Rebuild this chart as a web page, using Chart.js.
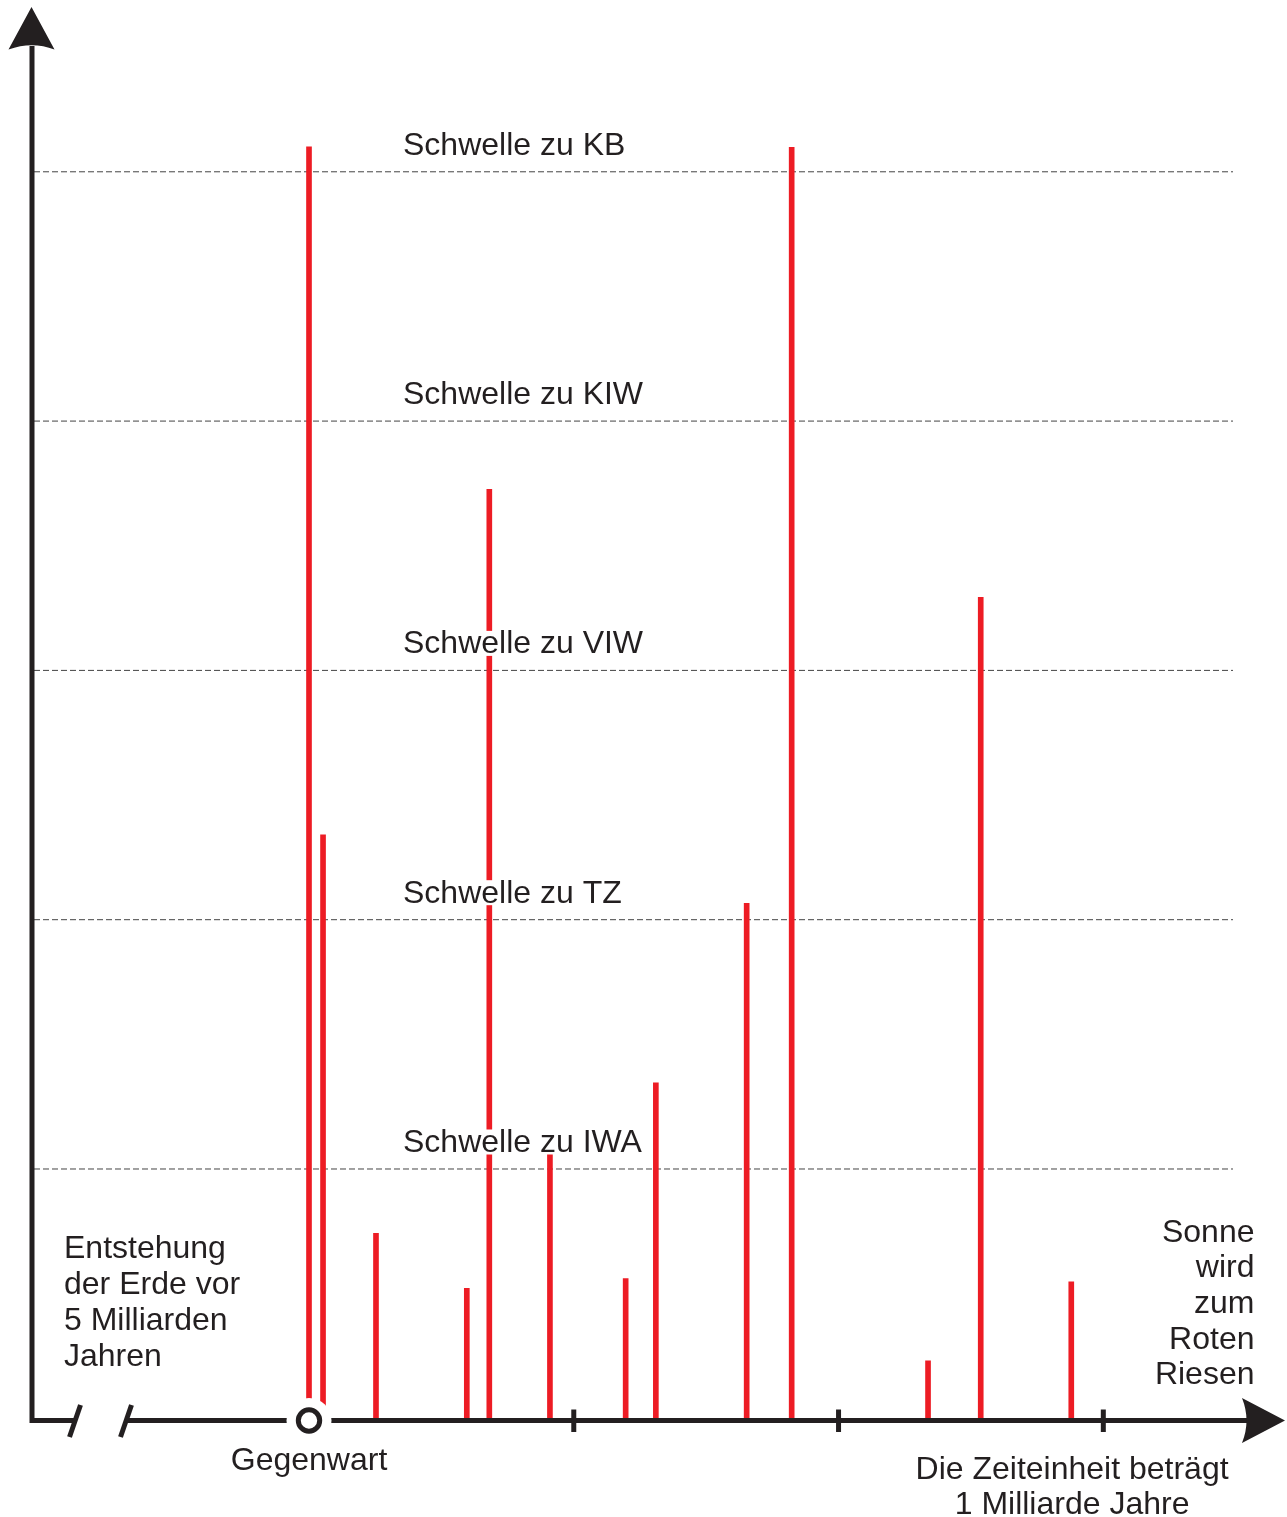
<!DOCTYPE html>
<html>
<head>
<meta charset="utf-8">
<script src="https://cdn.jsdelivr.net/npm/chart.js@4.4.1/dist/chart.umd.min.js"></script>
<style>
  html, body { margin: 0; padding: 0; background: #ffffff; }
  #wrap { width: 1287px; height: 1517px; position: relative; }
</style>
</head>
<body>
<div id="wrap"><canvas id="c"></canvas></div>
<script>
// ---- data (time in billions of years from present, intensity in threshold units) ----
const eventTimes = [0, 0.053, 0.253, 0.596, 0.681, 0.910, 1.196, 1.310, 1.653, 1.823, 2.338, 2.537, 2.879];
const eventLevels = [5.10, 2.34, 0.742, 0.521, 3.726, 1.06, 0.56, 1.346, 2.066, 5.098, 0.231, 3.293, 0.547];
const thresholdLevels = [1, 2, 3, 4, 5];
const thresholdLabels = ['Schwelle zu IWA', 'Schwelle zu TZ', 'Schwelle zu VIW', 'Schwelle zu KIW', 'Schwelle zu KB'];
const timeTicks = [1, 2, 3];
const presentTime = 0;
const presentLabel = 'Gegenwart';
const originLabel = ['Entstehung', 'der Erde vor', '5 Milliarden', 'Jahren'];
const endLabel = ['Sonne', 'wird', 'zum', 'Roten', 'Riesen'];
const unitLabel = ['Die Zeiteinheit beträgt', '1 Milliarde Jahre'];
const xRange = [-1.0462, 3.6862];
const yRange = [0, 5.661];

const INK = '#231f20';
const RED = '#ed1c24';
const FONT = '32px "Liberation Sans", Arial, Helvetica, sans-serif';

const decor = {
  id: 'decor',
  beforeDatasetsDraw(chart) {
    const ctx = chart.ctx, xs = chart.scales.x, ys = chart.scales.y;
    const a = chart.chartArea;
    ctx.save();
    ctx.strokeStyle = '#444444';
    ctx.lineWidth = 1;
    ctx.setLineDash([6, 3]);
    thresholdLevels.forEach(v => {
      const y = ys.getPixelForValue(v);
      ctx.beginPath();
      ctx.moveTo(a.left + 2, y);
      ctx.lineTo(a.left + 1201, y);
      ctx.stroke();
    });
    ctx.restore();
  },
  afterDatasetsDraw(chart) {
    const ctx = chart.ctx, xs = chart.scales.x, ys = chart.scales.y;
    const a = chart.chartArea;
    const axisX = a.left;
    const axisY = ys.getPixelForValue(0) + 2.2;
    ctx.save();
    ctx.font = FONT;
    ctx.textBaseline = 'alphabetic';

    // threshold labels with white backing
    const labelX = xs.getPixelForValue(0.355);
    thresholdLevels.forEach((v, i) => {
      const base = ys.getPixelForValue(v) - 17;
      const w = ctx.measureText(thresholdLabels[i]).width;
      ctx.fillStyle = '#ffffff';
      ctx.fillRect(labelX - 1, base - 22.5, w + 2, 25);
      ctx.fillStyle = INK;
      ctx.textAlign = 'left';
      ctx.fillText(thresholdLabels[i], labelX, base);
    });

    // axes
    ctx.strokeStyle = INK;
    ctx.fillStyle = INK;
    ctx.lineWidth = 5;
    ctx.lineJoin = 'miter';
    ctx.lineCap = 'butt';
    ctx.beginPath();
    ctx.moveTo(axisX, 46);
    ctx.lineTo(axisX, axisY);
    ctx.lineTo(a.right - 38, axisY);
    ctx.stroke();

    // y arrow head
    const tipY = a.top;
    ctx.beginPath();
    ctx.moveTo(axisX - 0.5, tipY);
    ctx.lineTo(axisX + 22.5, tipY + 42.5);
    ctx.quadraticCurveTo(axisX, tipY + 34, axisX - 23.5, tipY + 42.5);
    ctx.closePath();
    ctx.fill();

    // x arrow head
    const tipX = a.right;
    ctx.beginPath();
    ctx.moveTo(tipX, axisY);
    ctx.lineTo(tipX - 43, axisY + 22.5);
    ctx.quadraticCurveTo(tipX - 34, axisY, tipX - 43, axisY - 22.5);
    ctx.closePath();
    ctx.fill();

    // axis break
    ctx.fillStyle = '#ffffff';
    ctx.fillRect(axisX + 43, axisY - 3.5, 52, 7);
    ctx.strokeStyle = INK;
    ctx.lineWidth = 5;
    [axisX + 43, axisX + 94].forEach(cx => {
      ctx.beginPath();
      ctx.moveTo(cx + 5.5, axisY - 15.5);
      ctx.lineTo(cx - 5.5, axisY + 16.5);
      ctx.stroke();
    });

    // ticks
    timeTicks.forEach(t => {
      const x = xs.getPixelForValue(t);
      ctx.beginPath();
      ctx.moveTo(x, axisY - 11);
      ctx.lineTo(x, axisY + 11.5);
      ctx.stroke();
    });

    // present marker
    const px = xs.getPixelForValue(presentTime);
    ctx.fillStyle = '#ffffff';
    ctx.beginPath();
    ctx.arc(px, axisY, 22.5, 0, Math.PI * 2);
    ctx.fill();
    ctx.beginPath();
    ctx.arc(px, axisY, 10.7, 0, Math.PI * 2);
    ctx.fill();
    ctx.stroke();

    // labels
    ctx.fillStyle = INK;
    ctx.textAlign = 'center';
    ctx.fillText(presentLabel, px, axisY + 49);

    ctx.textAlign = 'left';
    originLabel.forEach((s, i) => ctx.fillText(s, axisX + 32, 1258.3 + i * 35.8));

    ctx.textAlign = 'right';
    endLabel.forEach((s, i) => ctx.fillText(s, a.right - 30.5, 1241.7 + i * 35.6));

    ctx.textAlign = 'center';
    unitLabel.forEach((s, i) => ctx.fillText(s, xs.getPixelForValue(2.882), axisY + 58 + i * 35.7));

    ctx.restore();
  }
};

new Chart(document.getElementById('c'), {
  type: 'bar',
  data: {
    datasets: [{
      data: eventTimes.map((t, i) => ({ x: t, y: eventLevels[i] })),
      backgroundColor: RED,
      borderWidth: 0,
      barThickness: 5
    }]
  },
  options: {
    responsive: true,
    maintainAspectRatio: false,
    animation: false,
    events: [],
    layout: { padding: { left: 32, right: 2, top: 7, bottom: 98.7 } },
    plugins: { legend: { display: false }, tooltip: { enabled: false }, title: { display: false } },
    scales: {
      x: { type: 'linear', min: xRange[0], max: xRange[1], offset: false, display: false, grid: { display: false } },
      y: { type: 'linear', min: yRange[0], max: yRange[1], display: false, grid: { display: false } }
    }
  },
  plugins: [decor]
});
</script>
</body>
</html>
